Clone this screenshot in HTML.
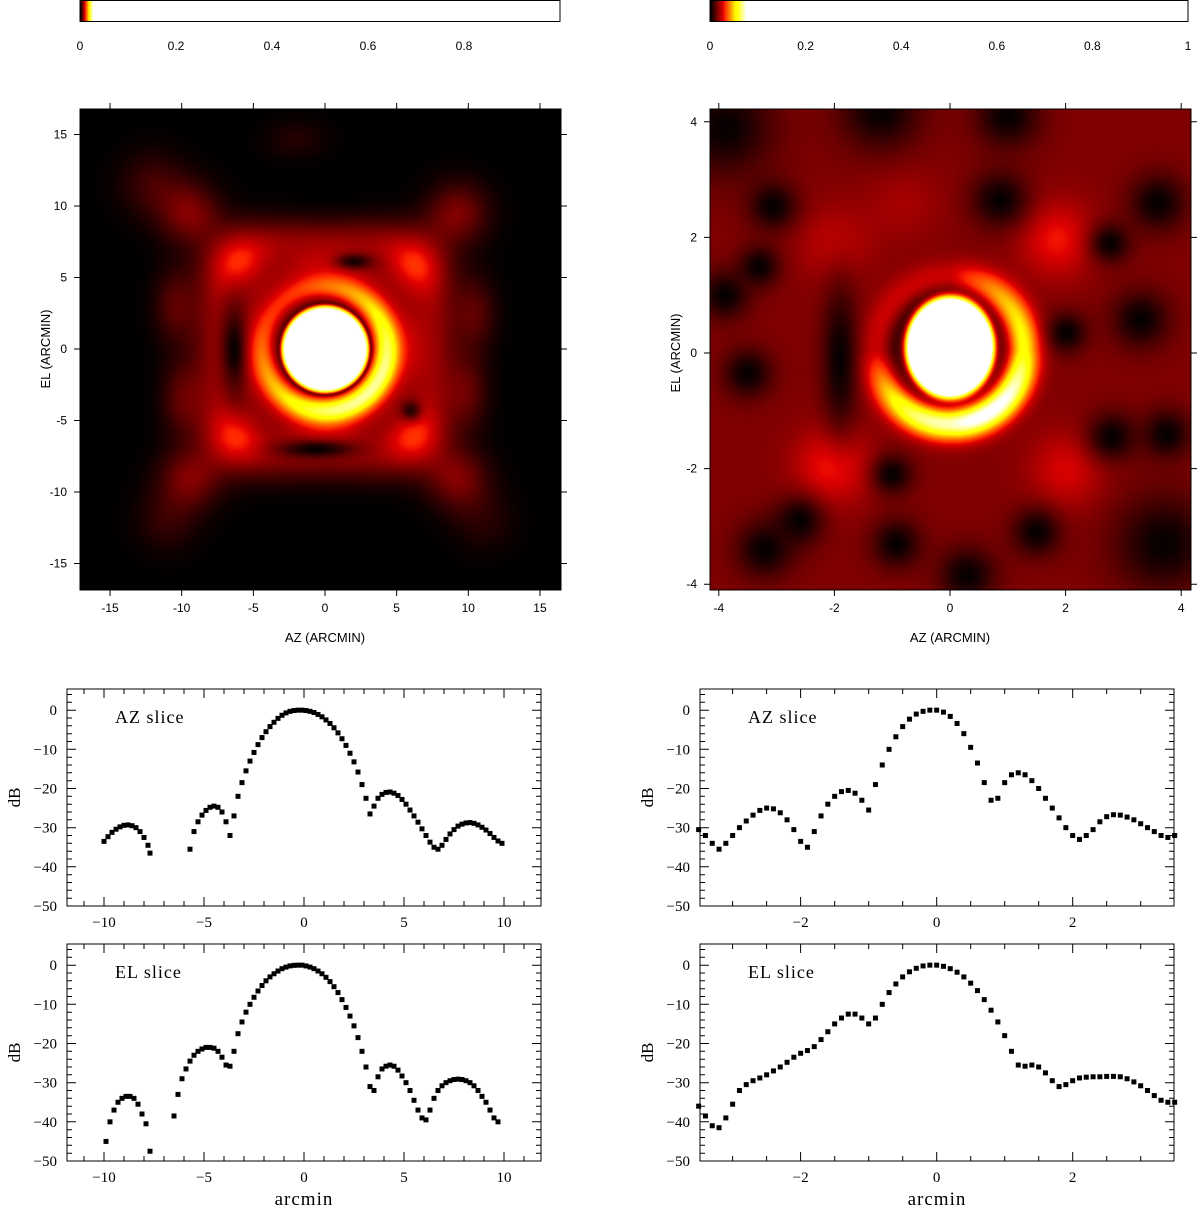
<!DOCTYPE html>
<html><head><meta charset="utf-8"><style>
html,body{margin:0;padding:0;background:#fff;}
#wrap{position:relative;width:1200px;height:1207px;overflow:hidden;}
canvas{position:absolute;}
svg{position:absolute;left:0;top:0;}
</style></head><body>
<div id="wrap">
<canvas id="cbL" width="480" height="22" style="left:80px;top:0px"></canvas>
<canvas id="cbR" width="478" height="22" style="left:710px;top:0px"></canvas>
<canvas id="imL" width="481" height="481" style="left:80px;top:109px"></canvas>
<canvas id="imR" width="481" height="481" style="left:710px;top:109px"></canvas>
<svg id="ov" width="1200" height="1207"></svg>
</div>
<script>
// ---------- slice data (arcmin, dB) ----------
const azLeftX=[-10,-9.8,-9.6,-9.4,-9.2,-9.0,-8.8,-8.6,-8.4,-8.2,-8.0,-7.8,-7.7,-5.7,-5.5,-5.3,-5.1,-4.9,-4.7,-4.5,-4.3,-4.1,-3.9,-3.7,-3.5,-3.3,-3.1,-2.9,-2.7,-2.5,-2.3,-2.1,-1.9,-1.7,-1.5,-1.3,-1.1,-0.9,-0.7,-0.5,-0.3,-0.1,0.1,0.3,0.5,0.7,0.9,1.1,1.3,1.5,1.7,1.9,2.1,2.3,2.5,2.7,2.9,3.1,3.3,3.5,3.7,3.9,4.1,4.3,4.5,4.7,4.9,5.1,5.3,5.5,5.7,5.9,6.1,6.3,6.5,6.7,6.9,7.1,7.3,7.5,7.7,7.9,8.1,8.3,8.5,8.7,8.9,9.1,9.3,9.5,9.7,9.9];
const azLeftDB=[-33.5,-32.3,-31.2,-30.4,-29.8,-29.4,-29.3,-29.5,-30.0,-31.0,-32.5,-34.5,-36.5,-35.5,-31,-28.5,-26.8,-25.6,-24.8,-24.5,-24.8,-26,-28.5,-32,-27,-22,-18.5,-15.5,-13,-10.8,-8.8,-7,-5.5,-4.2,-3.1,-2.1,-1.3,-0.7,-0.3,-0.1,0,0,-0.1,-0.3,-0.6,-1.1,-1.7,-2.5,-3.4,-4.5,-5.8,-7.3,-9,-11,-13.2,-15.8,-19,-22.5,-26.5,-24.5,-22.5,-21.5,-21,-20.9,-21.2,-21.8,-22.8,-24,-25.5,-27,-28.6,-30.3,-32,-33.7,-35,-35.5,-34.5,-33,-31.6,-30.5,-29.6,-29.1,-28.8,-28.7,-28.9,-29.3,-29.9,-30.6,-31.5,-32.5,-33.4,-34];
const elLeftX=[-9.9,-9.7,-9.5,-9.3,-9.1,-8.9,-8.7,-8.5,-8.3,-8.1,-7.9,-7.7,-6.5,-6.3,-6.1,-5.9,-5.7,-5.5,-5.3,-5.1,-4.9,-4.7,-4.5,-4.3,-4.1,-3.9,-3.7,-3.5,-3.3,-3.1,-2.9,-2.7,-2.5,-2.3,-2.1,-1.9,-1.7,-1.5,-1.3,-1.1,-0.9,-0.7,-0.5,-0.3,-0.1,0.1,0.3,0.5,0.7,0.9,1.1,1.3,1.5,1.7,1.9,2.1,2.3,2.5,2.7,2.9,3.1,3.3,3.5,3.7,3.9,4.1,4.3,4.5,4.7,4.9,5.1,5.3,5.5,5.7,5.9,6.1,6.3,6.5,6.7,6.9,7.1,7.3,7.5,7.7,7.9,8.1,8.3,8.5,8.7,8.9,9.1,9.3,9.5,9.7];
const elLeftDB=[-45,-40,-37,-35,-34,-33.5,-33.5,-34,-35.5,-38,-40.5,-47.5,-38.5,-33,-29,-26.5,-24.5,-23,-22,-21.4,-21,-21,-21.2,-22,-23.5,-25.5,-25.8,-22,-17.5,-14.5,-12,-10,-8.2,-6.6,-5.2,-4,-3,-2.2,-1.5,-0.9,-0.5,-0.2,-0.05,0,0,-0.2,-0.5,-0.9,-1.5,-2.2,-3.1,-4.2,-5.5,-7,-8.8,-10.8,-13,-15.5,-18.5,-22,-26,-31,-32,-28.5,-26.5,-25.8,-25.5,-25.8,-26.8,-28.3,-30,-32,-34.5,-37,-39,-39.5,-37,-34,-32,-30.8,-30,-29.5,-29.2,-29.1,-29.2,-29.5,-30,-30.8,-32,-33.5,-35,-37,-39,-40];
const azRightX=[-3.5,-3.4,-3.3,-3.2,-3.1,-3.0,-2.9,-2.8,-2.7,-2.6,-2.5,-2.4,-2.3,-2.2,-2.1,-2.0,-1.9,-1.8,-1.7,-1.6,-1.5,-1.4,-1.3,-1.2,-1.1,-1.0,-0.9,-0.8,-0.7,-0.6,-0.5,-0.4,-0.3,-0.2,-0.1,0,0.1,0.2,0.3,0.4,0.5,0.6,0.7,0.8,0.9,1.0,1.1,1.2,1.3,1.4,1.5,1.6,1.7,1.8,1.9,2.0,2.1,2.2,2.3,2.4,2.5,2.6,2.7,2.8,2.9,3.0,3.1,3.2,3.3,3.4,3.5];
const azRightDB=[-30.5,-32,-34,-35.5,-34,-32,-30,-28.3,-26.8,-25.6,-25,-25.2,-26.2,-28,-30.5,-33.5,-35,-31,-27,-24,-22,-20.8,-20.5,-21.2,-23,-25.5,-19,-14,-10,-6.8,-4.2,-2.3,-1.0,-0.3,0,0,-0.5,-1.6,-3.4,-6,-9.5,-13.5,-18.5,-23,-22.5,-18.5,-16.5,-16,-16.5,-18,-20,-22.5,-25,-27.5,-30,-32,-33,-32,-30.5,-28.5,-27.2,-26.7,-26.8,-27.3,-28,-29,-30,-31,-32,-32.5,-32];
const elRightX=azRightX.slice();
const elRightDB=[-36,-38.5,-41,-41.5,-39,-35.5,-32,-30.5,-29.5,-28.8,-28,-27,-26,-24.8,-23.5,-22.5,-21.8,-20.8,-19,-17,-15,-13.5,-12.5,-12.5,-13.5,-15,-13.5,-10,-7,-4.8,-3,-1.7,-0.8,-0.2,0,0,-0.3,-0.9,-1.8,-3,-4.6,-6.5,-8.8,-11.5,-14.5,-18,-22,-25.5,-25.8,-25.5,-26,-27.5,-29.5,-31,-30.5,-29.5,-28.8,-28.6,-28.5,-28.5,-28.4,-28.4,-28.5,-29,-29.8,-30.8,-32,-33.3,-34.5,-35,-35];
const yTickLabels=[0,-10,-20,-30,-40,-50];
const xTicksLeftSlice=[-10,-5,0,5,10];
const xTicksRightSlice=[-2,0,2];
const imgTicksLeft=[-15,-10,-5,0,5,10,15];
const imgTicksRight=[-4,-2,0,2,4];
const cbTicksLeft=[0,0.2,0.4,0.6,0.8];
const cbTicksRight=[0,0.2,0.4,0.6,0.8,1];

const NS='http://www.w3.org/2000/svg';
const ov=document.getElementById('ov');
function mk(tag,attrs,parent,text){const e=document.createElementNS(NS,tag);for(const k in attrs)e.setAttribute(k,attrs[k]);if(text!==undefined)e.textContent=text;(parent||ov).appendChild(e);return e;}
function fmt(v){return v<0?'\u2212'+(-v):String(v);}

function slice(name,x0,y0,x1,y1,xmin,xmax,xmaj,xminStep,xs,ys,label,xTickLabels,showXTitle){
  const g=mk('g',{});
  
  
  const sx=v=>x0+(v-xmin)/(xmax-xmin)*(x1-x0);
  const ymaxD=5.4,yminD=-50;
  const sy=v=>y0+(ymaxD-v)/(ymaxD-yminD)*(y1-y0);
  mk('rect',{x:x0,y:y0,width:x1-x0,height:y1-y0,fill:'none',stroke:'#000','stroke-width':1},g);
  let p='';
  for(let v=Math.ceil(xmin/xminStep)*xminStep;v<=xmax+1e-9;v+=xminStep){
    const X=sx(v).toFixed(1);const maj=Math.abs(v/xmaj-Math.round(v/xmaj))<1e-6;const L=maj?9:5;
    p+=`M${X} ${y1}v${-L}M${X} ${y0}v${L}`;
  }
  for(let v=-50;v<=ymaxD;v+=2){
    const Y=sy(v).toFixed(1);const L=(v%10===0)?9:5;
    p+=`M${x0} ${Y}h${L}M${x1} ${Y}h${-L}`;
  }
  mk('path',{d:p,stroke:'#000','stroke-width':1,fill:'none'},g);
  yTickLabels.forEach(v=>{const t=mk('text',{x:x0-10,y:sy(v)+5,'text-anchor':'end','font-family':'Liberation Serif, serif','font-size':15},g,fmt(v));});
  xTickLabels.forEach(v=>{const t=mk('text',{x:sx(v),y:y1+21,'text-anchor':'middle','font-family':'Liberation Serif, serif','font-size':15},g,fmt(v));});
  const yt=mk('text',{x:0,y:0,transform:`translate(${x0-47},${(y0+y1)/2}) rotate(-90)`,'text-anchor':'middle','font-family':'Liberation Serif, serif','font-size':17},g,'dB');
  
  const lb=mk('text',{x:x0+48,y:y0+34,'font-family':'Liberation Serif, serif','font-size':18,'letter-spacing':'1'},g,label);
  
  if(showXTitle){const xt=mk('text',{x:(x0+x1)/2,y:y1+44,'text-anchor':'middle','font-family':'Liberation Serif, serif','font-size':19,'letter-spacing':'1'},g,'arcmin');}
  xs.forEach((v,i)=>{const r=mk('rect',{x:sx(v)-2.5,y:sy(ys[i])-2.5,width:5,height:5,fill:'#000'},g);});
}
slice('az-slice-left',67,689,541,906,-11.85,11.85,5,1,azLeftX,azLeftDB,'AZ slice',xTicksLeftSlice,false);
slice('el-slice-left',67,944,541,1161,-11.85,11.85,5,1,elLeftX,elLeftDB,'EL slice',xTicksLeftSlice,true);
slice('az-slice-right',700,689,1174,906,-3.48,3.49,2,0.5,azRightX,azRightDB,'AZ slice',xTicksRightSlice,false);
slice('el-slice-right',700,944,1174,1161,-3.48,3.49,2,0.5,elRightX,elRightDB,'EL slice',xTicksRightSlice,true);

const cl=v=>v<0?0:v>1?1:v;
function heat(t){return [255*cl(t/0.4),255*cl((t-0.35)/0.35),255*cl((t-0.75)/0.25)];}
function G(x,y,cx,cy,sx,sy){sy=sy||sx;const dx=(x-cx)/sx,dy=(y-cy)/sy;return Math.exp(-(dx*dx+dy*dy)/2);}

function fLeft(x,y){
  const r=Math.hypot(x,y);
  let t=1.5*Math.exp(-Math.pow(r/3.0,12));
  const A=cl(0.6+0.25*((x-y)/(r+1e-6)/1.414));
  t+=A*Math.exp(-Math.pow((r-4.25)/1.0,2))*(1-0.9*Math.exp(-Math.pow((r-3.2)/0.13,2)));
  const rs=Math.pow(Math.pow(Math.abs(x),4)+Math.pow(Math.abs(y),4),0.25);
  let o=0.24*Math.exp(-Math.pow((rs-7.3)/2.0,2));
  o+=0.16*Math.exp(-Math.pow((r-5.6)/1.2,2));
  [[-6,6],[6.2,5.8],[-6.3,-6.2],[6.2,-6.1]].forEach(b=>o+=0.18*G(x,y,b[0],b[1],1.4));
  [[-9.4,9.5],[9.2,9.5],[-9.4,-9.1],[9.2,-9.1]].forEach(b=>o+=0.2*G(x,y,b[0],b[1],1.5));
  [[-10.5,3],[-10,-3.5],[10.5,2.5],[10,-3]].forEach(b=>o+=0.13*G(x,y,b[0],b[1],1,1.8));
  o+=0.1*G(x,y,-12,11.5,1.6);o+=0.06*G(x,y,-2,14.5,1.5,1);o+=0.08*G(x,y,-11,-12,1.5);o+=0.06*G(x,y,11,-12,1.5);
  o*=(1-0.97*G(x,y,-6.3,0,0.7,2.2))*(1-0.97*G(x,y,-0.6,-7,1.9,0.45))*(1-0.9*G(x,y,2,6.1,0.9,0.4))*(1-0.9*G(x,y,0,11.5,4,1.5))*(1-0.9*G(x,y,0,-12.5,4.5,2))*(1-0.8*G(x,y,6,-4.3,0.5));
  return t+o;
}
function fRight(x,y){
  const d=Math.hypot(x/0.76,(y-0.1)/0.88);
  let t=1.5*Math.exp(-Math.pow(d,10));
  const dy=y-0.05,rr=Math.hypot(x,dy),th=Math.atan2(dy,x);
  const amp=0.12+0.62*Math.pow(Math.max(0,-Math.sin(th)),1.1)+0.4*Math.max(0,Math.cos(th));
  t+=amp*Math.exp(-Math.pow((rr-1.27)/0.29,2));
  let b=0.2*(1-0.6*Math.exp(-Math.pow((rr-0.95)/0.18,2)));
  [[1.85,1.96,0.18],[-2.02,-1.96,0.2],[2.02,-2.02,0.14],[-2,1.9,0.1],[-0.8,2.6,0.06]].forEach(q=>b+=q[2]*G(x,y,q[0],q[1],0.45));
  const dark=[[-3.06,2.54,0.3],[-3.5,-0.35,0.3],[-1.9,-0.1,0.22,0.9],[-1,-2.1,0.25],[-0.92,-3.3,0.3],[2.02,0.35,0.25],[3.3,0.58,0.35],[2.8,-1.45,0.3],[3.75,-1.4,0.3],[2.77,1.9,0.25],[0.87,2.65,0.35],[-3.2,-3.4,0.35],[0.3,-3.85,0.35],[3.7,-3.3,0.6],[-3.9,3.9,0.6],[-1.2,4.2,0.5],[1.0,4.1,0.4],[-3.9,1.0,0.3],[-2.6,-2.9,0.3],[1.5,-3.1,0.3],[-3.3,1.5,0.25],[3.6,2.6,0.35]];
  dark.forEach(q=>b*=(1-0.95*G(x,y,q[0],q[1],q[2],q[3]||q[2])));
  return t+b;
}
function drawMap(id,f,xmin,xmax,ymin,ymax){
  const c=document.getElementById(id),ctx=c.getContext('2d');const W=c.width,H=c.height;
  const img=ctx.createImageData(W,H);
  for(let j=0;j<H;j++){const y=ymax-(j+0.5)/H*(ymax-ymin);
    for(let i=0;i<W;i++){const x=xmin+(i+0.5)/W*(xmax-xmin);
      const col=heat(f(x,y));const k=(j*W+i)*4;
      img.data[k]=col[0];img.data[k+1]=col[1];img.data[k+2]=col[2];img.data[k+3]=255;}}
  ctx.putImageData(img,0,0);
}
drawMap('imL',fLeft,-245/14.33,236/14.33,-241/14.3,240/14.3);
drawMap('imR',fRight,-240/57.8,241/57.8,-237/57.8,244/57.8);

function drawCB(id,frac){
  const c=document.getElementById(id),ctx=c.getContext('2d');const W=c.width;
  for(let i=0;i<W;i++){const col=heat(cl(i/(W*frac)));ctx.fillStyle=`rgb(${col[0]|0},${col[1]|0},${col[2]|0})`;ctx.fillRect(i,0,1,22);}
}
drawCB('cbL',0.026);drawCB('cbR',0.075);

function imgAxes(name,x0,y0,x1,y1,x0v,pxu,y0v,pyu,ticks){
  const g=mk('g',{});
  
  
  mk('rect',{x:x0,y:y0,width:x1-x0,height:y1-y0,fill:'none',stroke:'#000','stroke-width':1},g);
  let p='';
  ticks.forEach(v=>{const X=x0v+v*pxu,Y=y0v-v*pyu;
    if(X>=x0-1&&X<=x1+1)p+=`M${X} ${y0}v-6M${X} ${y1}v6`;
    if(Y>=y0-1&&Y<=y1+1)p+=`M${x0} ${Y}h-6M${x1} ${Y}h6`;
    const tx=mk('text',{x:X,y:y1+22,'text-anchor':'middle','font-family':'Liberation Sans, sans-serif','font-size':12},g,v<0?'-'+(-v):String(v));
    
    const ty=mk('text',{x:x0-13,y:Y+4,'text-anchor':'end','font-family':'Liberation Sans, sans-serif','font-size':12},g,v<0?'-'+(-v):String(v));
    
  });
  mk('path',{d:p,stroke:'#000','stroke-width':1},g);
  const xt=mk('text',{x:(x0v),y:y1+52,'text-anchor':'middle','font-family':'Liberation Sans, sans-serif','font-size':13},g,'AZ (ARCMIN)');
  
  const yt=mk('text',{x:0,y:0,transform:`translate(${x0-30},${y0v}) rotate(-90)`,'text-anchor':'middle','font-family':'Liberation Sans, sans-serif','font-size':13},g,'EL (ARCMIN)');
  
}
imgAxes('beam-map-left-axes',80,109,561,590,325,14.33,349,14.3,imgTicksLeft);
imgAxes('beam-map-right-axes',710,109,1191,590,950,57.8,353,57.8,imgTicksRight);

function cbAxes(name,x0,w,ticks,lab){
  const g=mk('g',{});
  
  
  mk('rect',{x:x0,y:0.5,width:w,height:21,fill:'none',stroke:'#000'},g);
  ticks.forEach(v=>{const X=x0+v*lab;
    const t=mk('text',{x:X,y:50,'text-anchor':'middle','font-family':'Liberation Sans, sans-serif','font-size':12},g,String(v));
    });
}
cbAxes('colorbar-left',80,480,cbTicksLeft,480);
cbAxes('colorbar-right',710,478,cbTicksRight,478);
</script>
</body></html>
